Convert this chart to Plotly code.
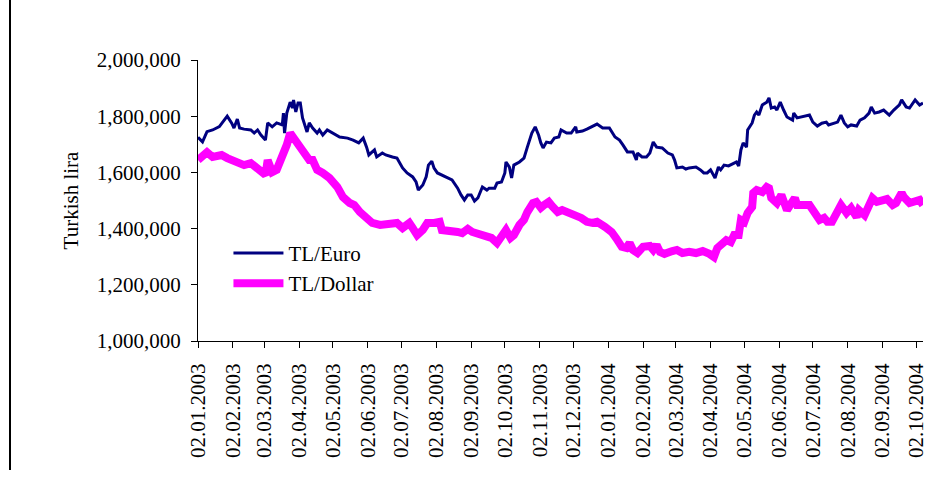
import plotly.graph_objects as go

euro_dates = [
    "2003-01-02", "2003-01-06", "2003-01-10", "2003-01-15", "2003-01-21", "2003-01-24", "2003-01-28",
    "2003-02-01", "2003-02-03", "2003-02-06", "2003-02-08", "2003-02-12", "2003-02-18", "2003-02-21",
    "2003-02-24", "2003-02-27", "2003-03-03", "2003-03-05", "2003-03-09", "2003-03-13", "2003-03-18",
    "2003-03-19", "2003-03-20", "2003-03-22", "2003-03-25", "2003-03-27", "2003-03-28", "2003-03-30",
    "2003-04-01", "2003-04-03", "2003-04-05", "2003-04-09", "2003-04-11", "2003-04-14", "2003-04-18",
    "2003-04-20", "2003-04-23", "2003-04-27", "2003-05-02", "2003-05-08", "2003-05-15", "2003-05-20",
    "2003-05-25", "2003-05-29", "2003-06-01", "2003-06-03", "2003-06-08", "2003-06-10", "2003-06-15",
    "2003-06-18", "2003-06-24", "2003-06-28", "2003-07-03", "2003-07-07", "2003-07-12", "2003-07-15",
    "2003-07-17", "2003-07-21", "2003-07-24", "2003-07-26", "2003-07-29", "2003-07-31", "2003-08-03",
    "2003-08-07", "2003-08-13", "2003-08-16", "2003-08-21", "2003-08-24", "2003-08-27", "2003-08-30",
    "2003-09-02", "2003-09-05", "2003-09-08", "2003-09-12", "2003-09-16", "2003-09-18", "2003-09-23",
    "2003-09-25", "2003-09-29", "2003-10-02", "2003-10-03", "2003-10-06", "2003-10-08", "2003-10-10",
    "2003-10-15", "2003-10-19", "2003-10-22", "2003-10-26", "2003-10-29", "2003-11-01", "2003-11-03",
    "2003-11-05", "2003-11-08", "2003-11-12", "2003-11-15", "2003-11-19", "2003-11-21", "2003-11-26",
    "2003-11-30", "2003-12-04", "2003-12-05", "2003-12-10", "2003-12-14", "2003-12-19", "2003-12-23",
    "2003-12-28", "2004-01-03", "2004-01-08", "2004-01-12", "2004-01-15", "2004-01-19", "2004-01-24",
    "2004-01-27", "2004-01-28", "2004-02-01", "2004-02-05", "2004-02-08", "2004-02-11", "2004-02-14",
    "2004-02-19", "2004-02-21", "2004-02-24", "2004-02-28", "2004-03-01", "2004-03-03", "2004-03-08",
    "2004-03-11", "2004-03-14", "2004-03-20", "2004-03-24", "2004-03-27", "2004-03-30", "2004-04-02",
    "2004-04-06", "2004-04-09", "2004-04-11", "2004-04-14", "2004-04-18", "2004-04-23", "2004-04-25",
    "2004-04-27", "2004-04-29", "2004-05-01", "2004-05-04", "2004-05-05", "2004-05-09", "2004-05-11",
    "2004-05-13", "2004-05-15", "2004-05-18", "2004-05-22", "2004-05-24", "2004-05-26", "2004-05-29",
    "2004-05-31", "2004-06-03", "2004-06-06", "2004-06-09", "2004-06-14", "2004-06-15", "2004-06-18",
    "2004-06-22", "2004-06-29", "2004-07-02", "2004-07-06", "2004-07-10", "2004-07-14", "2004-07-16",
    "2004-07-21", "2004-07-24", "2004-07-27", "2004-07-30", "2004-08-02", "2004-08-05", "2004-08-10",
    "2004-08-13", "2004-08-17", "2004-08-21", "2004-08-23", "2004-08-26", "2004-08-30", "2004-09-03",
    "2004-09-08", "2004-09-12", "2004-09-17", "2004-09-19", "2004-09-23", "2004-09-26", "2004-10-01",
    "2004-10-05", "2004-10-08",
]
euro_values = [
    1725000, 1709000, 1745000, 1751000, 1763000, 1780000, 1800000,
    1775000, 1758000, 1790000, 1758000, 1754000, 1751000, 1740000,
    1751000, 1733000, 1715000, 1776000, 1762000, 1776000, 1769000,
    1811000, 1740000, 1811000, 1850000, 1829000, 1858000, 1815000,
    1847000, 1847000, 1794000, 1744000, 1776000, 1758000, 1740000,
    1751000, 1733000, 1751000, 1740000, 1726000, 1722000, 1715000,
    1705000, 1722000, 1690000, 1662000, 1680000, 1655000, 1669000,
    1662000, 1655000, 1651000, 1616000, 1598000, 1584000, 1566000,
    1537000, 1555000, 1584000, 1626000, 1640000, 1615000, 1598000,
    1591000, 1580000, 1573000, 1544000, 1520000, 1502000, 1520000,
    1520000, 1498000, 1509000, 1548000, 1537000, 1544000, 1544000,
    1562000, 1566000, 1598000, 1637000, 1619000, 1580000, 1626000,
    1637000, 1651000, 1690000, 1740000, 1762000, 1733000, 1705000,
    1687000, 1708000, 1705000, 1722000, 1726000, 1751000, 1740000,
    1740000, 1762000, 1744000, 1747000, 1754000, 1765000, 1772000,
    1758000, 1758000, 1726000, 1715000, 1698000, 1673000, 1673000,
    1644000, 1669000, 1655000, 1655000, 1669000, 1708000, 1690000,
    1687000, 1680000, 1669000, 1662000, 1644000, 1616000, 1619000,
    1612000, 1616000, 1619000, 1609000, 1598000, 1598000, 1609000,
    1580000, 1619000, 1609000, 1626000, 1623000, 1633000, 1637000,
    1623000, 1680000, 1705000, 1690000, 1751000, 1776000, 1804000,
    1815000, 1804000, 1840000, 1850000, 1865000, 1829000, 1833000,
    1822000, 1850000, 1822000, 1797000, 1786000, 1811000, 1794000,
    1797000, 1804000, 1779000, 1765000, 1775000, 1779000, 1769000,
    1776000, 1779000, 1804000, 1776000, 1762000, 1769000, 1765000,
    1786000, 1794000, 1811000, 1833000, 1811000, 1815000, 1822000,
    1804000, 1822000, 1840000, 1858000, 1833000, 1829000, 1858000,
    1840000, 1847000,
]

dollar_dates = [
    "2003-01-02", "2003-01-06", "2003-01-10", "2003-01-15", "2003-01-23", "2003-01-28", "2003-02-05",
    "2003-02-12", "2003-02-18", "2003-02-24", "2003-02-28", "2003-03-03", "2003-03-05", "2003-03-09",
    "2003-03-13", "2003-03-16", "2003-03-19", "2003-03-22", "2003-03-25", "2003-03-28", "2003-03-31",
    "2003-04-04", "2003-04-07", "2003-04-11", "2003-04-14", "2003-04-18", "2003-04-23", "2003-04-29",
    "2003-05-06", "2003-05-11", "2003-05-17", "2003-05-21", "2003-05-26", "2003-06-01", "2003-06-06",
    "2003-06-13", "2003-06-19", "2003-06-24", "2003-06-28", "2003-07-03", "2003-07-09", "2003-07-12",
    "2003-07-16", "2003-07-21", "2003-07-25", "2003-07-31", "2003-08-05", "2003-08-07", "2003-08-15",
    "2003-08-21", "2003-08-25", "2003-08-30", "2003-09-03", "2003-09-10", "2003-09-16", "2003-09-20",
    "2003-09-25", "2003-09-29", "2003-10-03", "2003-10-07", "2003-10-10", "2003-10-15", "2003-10-19",
    "2003-10-22", "2003-10-27", "2003-10-30", "2003-11-03", "2003-11-06", "2003-11-10", "2003-11-13",
    "2003-11-18", "2003-11-22", "2003-11-28", "2003-12-03", "2003-12-09", "2003-12-14", "2003-12-19",
    "2003-12-23", "2003-12-30", "2004-01-05", "2004-01-09", "2004-01-14", "2004-01-18", "2004-01-21",
    "2004-01-24", "2004-01-28", "2004-02-02", "2004-02-08", "2004-02-11", "2004-02-14", "2004-02-17",
    "2004-02-21", "2004-02-28", "2004-03-03", "2004-03-08", "2004-03-14", "2004-03-20", "2004-03-26",
    "2004-04-01", "2004-04-05", "2004-04-08", "2004-04-12", "2004-04-16", "2004-04-20", "2004-04-23",
    "2004-04-27", "2004-04-29", "2004-05-02", "2004-05-05", "2004-05-09", "2004-05-10", "2004-05-13",
    "2004-05-18", "2004-05-22", "2004-05-24", "2004-05-26", "2004-05-31", "2004-06-04", "2004-06-09",
    "2004-06-13", "2004-06-16", "2004-06-18", "2004-06-22", "2004-06-29", "2004-07-02", "2004-07-05",
    "2004-07-08", "2004-07-12", "2004-07-15", "2004-07-19", "2004-07-23", "2004-07-27", "2004-08-01",
    "2004-08-05", "2004-08-10", "2004-08-12", "2004-08-17", "2004-08-21", "2004-08-24", "2004-08-28",
    "2004-09-03", "2004-09-06", "2004-09-11", "2004-09-14", "2004-09-19", "2004-09-21", "2004-09-26",
    "2004-10-02", "2004-10-05", "2004-10-08",
]
dollar_values = [
    1644000, 1655000, 1672000, 1655000, 1662000, 1651000, 1637000,
    1626000, 1633000, 1616000, 1601000, 1591000, 1644000, 1601000,
    1609000, 1637000, 1673000, 1698000, 1740000, 1722000, 1705000,
    1687000, 1662000, 1644000, 1644000, 1609000, 1598000, 1580000,
    1548000, 1512000, 1491000, 1484000, 1459000, 1441000, 1420000,
    1413000, 1413000, 1420000, 1420000, 1402000, 1420000, 1402000,
    1377000, 1395000, 1420000, 1420000, 1424000, 1395000, 1395000,
    1388000, 1384000, 1399000, 1388000, 1381000, 1370000, 1367000,
    1349000, 1370000, 1395000, 1367000, 1377000, 1413000, 1431000,
    1459000, 1491000, 1495000, 1474000, 1484000, 1495000, 1480000,
    1459000, 1466000, 1459000, 1448000, 1438000, 1424000, 1420000,
    1424000, 1406000, 1388000, 1366000, 1335000, 1331000, 1349000,
    1324000, 1313000, 1335000, 1338000, 1324000, 1342000, 1317000,
    1310000, 1320000, 1324000, 1313000, 1317000, 1313000, 1320000,
    1310000, 1299000, 1331000, 1342000, 1359000, 1352000, 1377000,
    1377000, 1431000, 1424000, 1456000, 1477000, 1527000, 1537000,
    1530000, 1548000, 1544000, 1509000, 1491000, 1520000, 1466000,
    1491000, 1509000, 1484000, 1484000, 1484000, 1466000, 1441000,
    1431000, 1438000, 1424000, 1424000, 1456000, 1484000, 1456000,
    1473000, 1441000, 1466000, 1448000, 1491000, 1509000, 1495000,
    1502000, 1505000, 1484000, 1491000, 1527000, 1512000, 1491000,
    1495000, 1502000, 1484000,
]

series_names = ["TL/Euro", "TL/Dollar"]
y_title = "Turkish lira"
x_range = ["2003-01-02", "2004-10-08"]
y_range = [1000000, 2000000]

FONT = "Times New Roman, Liberation Serif, serif"

fig = go.Figure()
fig.add_trace(go.Scatter(
    x=euro_dates, y=euro_values, name=series_names[0], mode="lines",
    line=dict(color="#000080", width=3),
))
fig.add_trace(go.Scatter(
    x=dollar_dates, y=dollar_values, name=series_names[1], mode="lines",
    line=dict(color="#FF00FF", width=8),
))

fig.update_layout(
    width=941, height=479,
    margin=dict(l=198, r=18, t=60, b=138, autoexpand=False),
    paper_bgcolor="white", plot_bgcolor="white",
    font=dict(family=FONT, size=21, color="black"),
    showlegend=True,
    legend=dict(
        x=0.042, y=0.385, xanchor="left", yanchor="top",
        bgcolor="rgba(0,0,0,0)", font=dict(family=FONT, size=21),
        itemwidth=50, tracegroupgap=0,
    ),
    xaxis=dict(
        type="date", range=x_range, automargin=False,
        tick0="2003-01-02", dtick="M1", tickformat="%d.%m.%Y",
        tickangle=-90, ticks="outside", ticklen=6, tickcolor="black",
        showline=True, linecolor="black", linewidth=1,
        showgrid=False, zeroline=False,
        ticklabelstandoff=7,
        tickfont=dict(family=FONT, size=21),
    ),
    yaxis=dict(
        range=y_range, dtick=200000, tickformat=",d", automargin=False,
        ticks="outside", ticklen=6, tickcolor="black",
        showline=True, linecolor="black", linewidth=1,
        showgrid=False, zeroline=False,
        ticklabelstandoff=6,
        tickfont=dict(family=FONT, size=21),
        title=dict(text=y_title, standoff=12, font=dict(family=FONT, size=21)),
    ),
    shapes=[dict(
        type="line", xref="paper", yref="paper",
        x0=(10 - 198) / 725, x1=(10 - 198) / 725,
        y0=(341 - 470) / 281, y1=(341 - 0) / 281,
        line=dict(color="black", width=2),
    )],
)

fig.write_html(
    "out.html",
    config={"displayModeBar": False},
    post_script="document.body.style.margin='0';document.body.style.padding='0';",
)
